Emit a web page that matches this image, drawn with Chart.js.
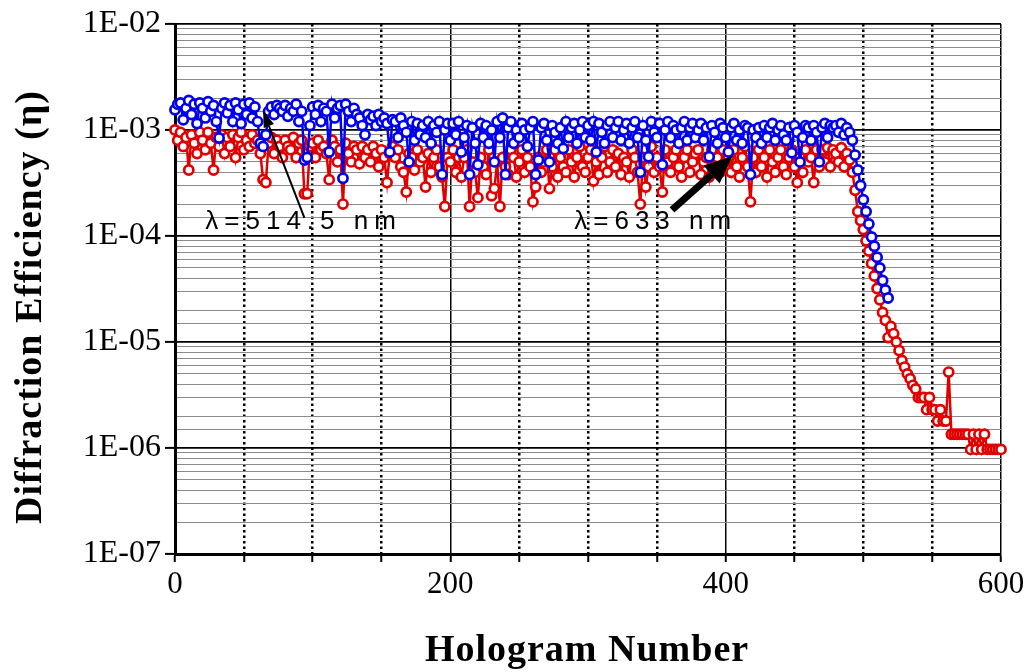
<!DOCTYPE html>
<html>
<head>
<meta charset="utf-8">
<script src="https://cdn.jsdelivr.net/npm/chart.js@4.4.1/dist/chart.umd.min.js"></script>
<style>
  html, body { margin: 0; padding: 0; background: #fff; }
  #wrap { width: 1036px; height: 672px; }
</style>
</head>
<body>
<div id="wrap"><canvas id="chart" width="1036" height="672"></canvas></div>
<script>
// Numéro d'hologramme : un point tous les 2 hologrammes, à partir de 0
const holoStep = 2;
const effUnit = 1e-4; // les valeurs ci-dessous sont en unités de 1E-04

// Série bleue (lambda = 514.5 nm), hologrammes 0 à 518
const blueEff = [
  15.5, 17.5, 18, 12.5, 16, 19, 14, 17.5, 11.5, 18,
  16, 13, 18.5, 15, 17, 12, 8.4, 16, 18, 14.5,
  17, 12, 18, 15.5, 11.5, 17.5, 14, 18, 13, 16.5,
  12, 7.5, 7, 9, 15, 16.5, 14, 17, 16, 15,
  17, 13.5, 16, 15, 17.5, 12, 15, 5.2, 5.5, 11,
  16.5, 14, 17, 12, 16, 15, 6.2, 17.5, 13, 16,
  17, 3.5, 17.5, 15, 12, 16, 14, 13, 11, 9,
  14, 12.5, 13.5, 11, 14, 12, 13, 11.5, 6.2, 12.5,
  12, 8.5, 13, 11, 9.5, 5.0, 12, 8, 11.5, 9,
  11, 8.5, 12, 7.5, 11, 9.5, 12, 3.8, 10, 11.5,
  8, 11.5, 9, 12, 6.2, 8.5, 11, 3.8, 10.5, 7.5,
  4.7, 11.5, 8.5, 11, 7.5, 10, 5.0, 12, 8.5, 13,
  3.8, 10.5, 12, 7.5, 10, 8.5, 11.5, 10, 7, 10.5,
  12, 3.8, 5.2, 10.5, 11.5, 8, 5.0, 11, 9.5, 7.5,
  10.5, 6.7, 12, 8.5, 10.5, 11.5, 7.5, 10, 12, 8.5,
  11, 8, 12, 6.2, 11.5, 9.5, 7.5, 11, 12, 8.5,
  10.5, 12, 8, 10, 11.5, 7.5, 10.5, 12, 8.5, 4.0,
  11, 8, 5.6, 12, 9.5, 8.5, 11.5, 4.7, 10, 12,
  8.5, 11, 10, 7.5, 10.5, 12, 8, 10.5, 11.5, 8.5,
  10, 11.5, 8, 10.5, 5.6, 11, 9.5, 7.5, 11.5, 10.5,
  8.5, 6.2, 10.5, 11.5, 8, 10, 7.5, 11, 10.5, 3.8,
  10, 8.5, 10.5, 7.5, 11, 8.5, 10.5, 11.5, 8, 10,
  11, 9, 8, 10.5, 6.1, 11, 9.5, 5.0, 8.5, 11,
  10.5, 8, 11, 9.5, 5.0, 10.5, 11.5, 8.5, 11, 10.5,
  11, 9.5, 11.5, 9, 10.5, 9.5, 8.0, 5.8, 4.2, 3.0,
  2.2, 1.7, 1.3, 0.98, 0.8, 0.63, 0.5, 0.38, 0.31, 0.26
];

// Série rouge (lambda = 633 nm), hologrammes 0 à 600
const redEff = [
  10, 8, 9.5, 7, 8.5, 4.2, 9, 7.5, 6, 9.5,
  8, 6.5, 9.5, 7.5, 4.2, 8.5, 7, 9, 6, 8.5,
  7, 9, 5.5, 8.5, 9.5, 6.5, 8, 7, 9, 7.5,
  8, 6, 3.4, 3.2, 7.5, 8.5, 6, 8, 7, 5.5,
  8, 7, 6.5, 8.5, 5.5, 7.5, 8, 2.5, 2.5, 7,
  7.5, 5.5, 8, 6.5, 7, 6, 3.4, 8, 7, 5,
  6.5, 2.0, 7.5, 6, 5, 7, 6.5, 4.8, 7, 5.5,
  6.5, 5, 7, 6, 4.5, 6.5, 5.5, 3.2, 6, 7,
  5.5, 6.5, 4.5, 4, 2.6, 6, 5.5, 4.2, 6.5, 5,
  5.5, 2.9, 6, 4, 5.5, 6.5, 4.5, 3.6, 1.9, 5.5,
  5, 6.5, 4, 5.5, 3.6, 5.5, 6.5, 1.9, 5, 4,
  2.3, 5.5, 4.5, 3.8, 6.5, 2.4, 2.8, 5, 1.9, 5.5,
  4.5, 3.8, 6.5, 5.5, 3.6, 5, 6.5, 4, 5.5, 4.5,
  2.1, 2.9, 5.5, 4, 5, 6.5, 2.8, 4.5, 6.5, 3.6,
  5.5, 4.5, 4, 6.5, 5, 3.6, 5.5, 7, 4.5, 4,
  5.5, 6.5, 3.3, 5, 3.8, 5.5, 7, 4, 5, 6.5,
  4.5, 6, 3.8, 5.5, 5, 3.6, 6.5, 5.5, 4, 2.0,
  5.5, 2.9, 4.5, 7, 4, 5.5, 4.5, 2.6, 6.5, 5,
  4, 5.5, 6.5, 4.5, 3.6, 5.5, 6.5, 4, 5, 6,
  6.5, 3.8, 5, 5.5, 3.6, 6.5, 4.5, 5.5, 4, 6.5,
  5, 5.5, 4, 6.5, 4.5, 3.6, 5.5, 7, 4.5, 2.1,
  5.5, 4, 6.5, 4.5, 5.5, 3.6, 6.5, 5, 4, 5.5,
  6.5, 4.5, 3.8, 5.5, 6.5, 4.5, 3.2, 5.5, 4, 6.5,
  5, 5.5, 3.2, 6.5, 4.5, 6.5, 5, 6.8, 4.5, 6.5,
  6, 5, 6.8, 4.5, 6, 5.2, 4.0, 2.7, 1.7, 1.4,
  1.15, 0.9, 0.72, 0.55, 0.42, 0.32, 0.25, 0.19, 0.16, 0.11,
  0.14, 0.12, 0.10, 0.083, 0.067, 0.058, 0.05, 0.045, 0.039, 0.036,
  0.03, 0.03, 0.03, 0.023, 0.03, 0.023, 0.023, 0.018, 0.023, 0.018,
  0.018, 0.052, 0.0135, 0.0135, 0.0135, 0.0135, 0.0135, 0.0135, 0.0135, 0.0097,
  0.0135, 0.0097, 0.0135, 0.0097, 0.0135, 0.0097, 0.0097, 0.0097, 0.0097, 0.0097,
  0.0097
];

// Graduations
const xLabelTicks = [0, 200, 400, 600];
const yLabelTicks = ['1E-07', '1E-06', '1E-05', '1E-04', '1E-03', '1E-02'];

// Annotations (position en numéro d'hologramme / efficacité)
const noteTexts = ['\u03bb=514.5 nm', '\u03bb=633 nm'];
const noteX = [22, 290];
const noteY = [1.36e-4, 1.36e-4];
const arrowFromX = [94, 361];
const arrowFromY = [1.48e-4, 1.76e-4];
const arrowToX = [64, 405];
const arrowToY = [1.51e-3, 5.69e-4];

const blueColor = '#0000ee';
const redColor = '#e00000';

function toPoints(values) {
    return values.map((v, i) => ({ x: i * holoStep, y: v * effUnit }));
}

function isDecade(v) {
    const l = Math.log10(v);
    return Math.abs(l - Math.round(l)) < 1e-6;
}

// Flèche : trait + tête triangulaire
function drawArrow(ctx, x1, y1, x2, y2, shaftW, headLen, headW) {
    const ang = Math.atan2(y2 - y1, x2 - x1);
    const bx = x2 - headLen * Math.cos(ang);
    const by = y2 - headLen * Math.sin(ang);
    ctx.save();
    ctx.strokeStyle = '#000';
    ctx.fillStyle = '#000';
    ctx.lineWidth = shaftW;
    ctx.beginPath();
    ctx.moveTo(x1, y1);
    ctx.lineTo(bx, by);
    ctx.stroke();
    ctx.beginPath();
    ctx.moveTo(x2, y2);
    ctx.lineTo(bx + headW / 2 * Math.sin(ang), by - headW / 2 * Math.cos(ang));
    ctx.lineTo(bx - headW / 2 * Math.sin(ang), by + headW / 2 * Math.cos(ang));
    ctx.closePath();
    ctx.fill();
    ctx.restore();
}

// Plugin : titres des axes et annotations lambda
const notesPlugin = {
    id: 'notes',
    afterDraw(chart) {
        const ctx = chart.ctx;
        const xs = chart.scales.x;
        const ys = chart.scales.y;

        ctx.save();
        ctx.fillStyle = '#000';
        ctx.textBaseline = 'middle';
        ctx.font = '26px "Liberation Sans", Arial, sans-serif';
        ctx.letterSpacing = '6px';
        ctx.textAlign = 'left';
        noteTexts.forEach((t, i) => {
            ctx.fillText(t, xs.getPixelForValue(noteX[i]), ys.getPixelForValue(noteY[i]));
        });
        ctx.restore();

        drawArrow(ctx,
            xs.getPixelForValue(arrowFromX[0]), ys.getPixelForValue(arrowFromY[0]),
            xs.getPixelForValue(arrowToX[0]), ys.getPixelForValue(arrowToY[0]), 2, 16, 11);
        drawArrow(ctx,
            xs.getPixelForValue(arrowFromX[1]), ys.getPixelForValue(arrowFromY[1]),
            xs.getPixelForValue(arrowToX[1]), ys.getPixelForValue(arrowToY[1]), 7, 28, 24);

        // Titres des axes
        ctx.save();
        ctx.fillStyle = '#000';
        ctx.font = 'bold 38px "Liberation Serif", "Times New Roman", serif';
        ctx.letterSpacing = '1px';
        ctx.textAlign = 'center';
        ctx.textBaseline = 'middle';
        ctx.fillText('Hologram Number', 587, 651);
        ctx.translate(31, 307);
        ctx.rotate(-Math.PI / 2);
        ctx.fillText('Diffraction Efficiency (\u03b7)', 0, 0);
        ctx.restore();
    }
};

const ctx = document.getElementById('chart').getContext('2d');
const chart = new Chart(ctx, {
    type: 'line',
    data: {
        datasets: [{
            label: '514.5 nm',
            data: toPoints(blueEff),
            borderColor: blueColor,
            borderWidth: 2.5,
            pointRadius: 4.6,
            pointBorderWidth: 2.7,
            pointBackgroundColor: '#fff',
            pointBorderColor: blueColor,
            tension: 0,
            clip: false
        }, {
            label: '633 nm',
            data: toPoints(redEff),
            borderColor: redColor,
            borderWidth: 2.5,
            pointRadius: 4.6,
            pointBorderWidth: 2.7,
            pointBackgroundColor: '#fff',
            pointBorderColor: redColor,
            tension: 0,
            clip: false
        }]
    },
    options: {
        responsive: false,
        animation: false,
        devicePixelRatio: 1,
        layout: { padding: { top: 24, right: 35, left: 0, bottom: 0 } },
        plugins: {
            legend: { display: false },
            tooltip: { enabled: false }
        },
        scales: {
            x: {
                type: 'linear',
                min: 0,
                max: 600,
                afterFit: (s) => { s.height = 118; },
                border: {
                    color: '#000',
                    width: 3,
                    dash: (c) => (c.tick && c.tick.value % 200 === 0) ? [] : [2.5, 3]
                },
                grid: {
                    color: '#000',
                    lineWidth: (c) => (c.tick && c.tick.value % 200 === 0) ? 1.5 : 2.5,
                    tickLength: 8,
                    tickWidth: 2,
                    tickColor: '#000'
                },
                ticks: {
                    stepSize: 50,
                    autoSkip: false,
                    maxRotation: 0,
                    padding: 4,
                    color: '#000',
                    font: { family: '"Liberation Serif", "Times New Roman", serif', size: 31 },
                    callback: (v) => xLabelTicks.includes(v) ? String(v) : ''
                }
            },
            y: {
                type: 'logarithmic',
                min: 1e-7,
                max: 1e-2,
                afterFit: (s) => { s.width = 175; },
                border: { color: '#000', width: 3 },
                grid: {
                    color: (c) => (c.tick && isDecade(c.tick.value)) ? '#000' : '#8a8a8a',
                    lineWidth: (c) => (c.tick && isDecade(c.tick.value)) ? 1.8 : 1,
                    tickLength: 10,
                    tickWidth: 2,
                    tickColor: (c) => (c.tick && isDecade(c.tick.value)) ? '#000' : 'rgba(0,0,0,0)'
                },
                ticks: {
                    autoSkip: false,
                    padding: 4,
                    color: '#000',
                    font: { family: '"Liberation Serif", "Times New Roman", serif', size: 32 },
                    callback: (v) => isDecade(v) ? yLabelTicks[Math.round(Math.log10(v)) + 7] : ''
                }
            }
        }
    },
    plugins: [notesPlugin]
});
</script>
</body>
</html>
